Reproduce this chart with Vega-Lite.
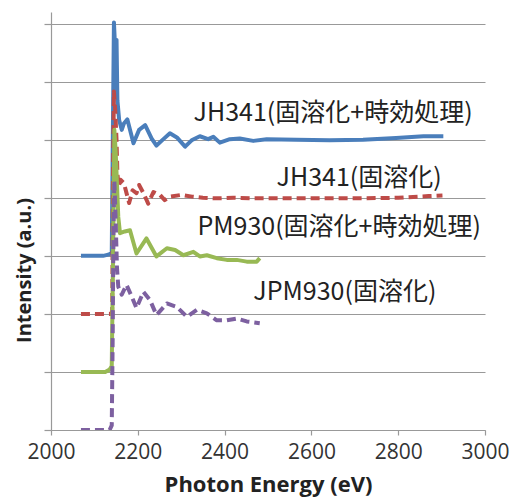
{
  "$schema": "https://vega.github.io/schema/vega-lite/v6.json",
  "width": 434,
  "height": 418,
  "autosize": "none",
  "padding": {"left": 51, "top": 12, "right": 26, "bottom": 73},
  "background": "white",
  "config": {
    "view": {"stroke": null},
    "font": "Open Sans"
  },
  "datasets": {
    "spectra": [
      {"series": "JH341 aged", "e": 2069, "v": 3.0},
      {"series": "JH341 aged", "e": 2120, "v": 3.0},
      {"series": "JH341 aged", "e": 2132, "v": 3.02},
      {"series": "JH341 aged", "e": 2140, "v": 3.05},
      {"series": "JH341 aged", "e": 2143, "v": 5.5},
      {"series": "JH341 aged", "e": 2145, "v": 7.02},
      {"series": "JH341 aged", "e": 2148, "v": 6.54},
      {"series": "JH341 aged", "e": 2151, "v": 6.72},
      {"series": "JH341 aged", "e": 2153, "v": 5.68},
      {"series": "JH341 aged", "e": 2157, "v": 5.34},
      {"series": "JH341 aged", "e": 2163, "v": 5.17},
      {"series": "JH341 aged", "e": 2168, "v": 5.28},
      {"series": "JH341 aged", "e": 2176, "v": 5.35},
      {"series": "JH341 aged", "e": 2190, "v": 4.94},
      {"series": "JH341 aged", "e": 2203, "v": 5.17},
      {"series": "JH341 aged", "e": 2217, "v": 5.25},
      {"series": "JH341 aged", "e": 2232, "v": 5.02},
      {"series": "JH341 aged", "e": 2243, "v": 4.9},
      {"series": "JH341 aged", "e": 2259, "v": 5.01},
      {"series": "JH341 aged", "e": 2274, "v": 5.11},
      {"series": "JH341 aged", "e": 2290, "v": 5.04},
      {"series": "JH341 aged", "e": 2309, "v": 4.88},
      {"series": "JH341 aged", "e": 2324, "v": 4.99},
      {"series": "JH341 aged", "e": 2343, "v": 5.06},
      {"series": "JH341 aged", "e": 2362, "v": 5.01},
      {"series": "JH341 aged", "e": 2374, "v": 5.05},
      {"series": "JH341 aged", "e": 2389, "v": 4.95},
      {"series": "JH341 aged", "e": 2412, "v": 5.01},
      {"series": "JH341 aged", "e": 2435, "v": 5.02},
      {"series": "JH341 aged", "e": 2466, "v": 4.98},
      {"series": "JH341 aged", "e": 2497, "v": 5.01},
      {"series": "JH341 aged", "e": 2565, "v": 5.0},
      {"series": "JH341 aged", "e": 2642, "v": 4.99},
      {"series": "JH341 aged", "e": 2719, "v": 5.0},
      {"series": "JH341 aged", "e": 2795, "v": 5.03},
      {"series": "JH341 aged", "e": 2858, "v": 5.06},
      {"series": "JH341 aged", "e": 2904, "v": 5.06},

      {"series": "JH341", "e": 2069, "v": 2.0},
      {"series": "JH341", "e": 2138, "v": 2.0},
      {"series": "JH341", "e": 2141, "v": 2.05},
      {"series": "JH341", "e": 2143, "v": 4.5},
      {"series": "JH341", "e": 2145, "v": 5.83},
      {"series": "JH341", "e": 2148, "v": 5.5},
      {"series": "JH341", "e": 2151, "v": 5.0},
      {"series": "JH341", "e": 2153, "v": 4.42},
      {"series": "JH341", "e": 2156, "v": 4.19},
      {"series": "JH341", "e": 2160, "v": 4.31},
      {"series": "JH341", "e": 2168, "v": 4.25},
      {"series": "JH341", "e": 2174, "v": 4.08},
      {"series": "JH341", "e": 2180, "v": 3.91},
      {"series": "JH341", "e": 2188, "v": 4.13},
      {"series": "JH341", "e": 2197, "v": 4.08},
      {"series": "JH341", "e": 2203, "v": 4.22},
      {"series": "JH341", "e": 2213, "v": 4.08},
      {"series": "JH341", "e": 2224, "v": 3.9},
      {"series": "JH341", "e": 2236, "v": 4.1},
      {"series": "JH341", "e": 2251, "v": 4.05},
      {"series": "JH341", "e": 2262, "v": 3.96},
      {"series": "JH341", "e": 2275, "v": 4.02},
      {"series": "JH341", "e": 2301, "v": 4.05},
      {"series": "JH341", "e": 2325, "v": 4.02},
      {"series": "JH341", "e": 2350, "v": 4.0},
      {"series": "JH341", "e": 2380, "v": 3.99},
      {"series": "JH341", "e": 2420, "v": 4.0},
      {"series": "JH341", "e": 2460, "v": 3.99},
      {"series": "JH341", "e": 2497, "v": 3.99},
      {"series": "JH341", "e": 2600, "v": 3.99},
      {"series": "JH341", "e": 2700, "v": 3.99},
      {"series": "JH341", "e": 2800, "v": 4.0},
      {"series": "JH341", "e": 2870, "v": 4.03},
      {"series": "JH341", "e": 2902, "v": 4.04},

      {"series": "PM930 aged", "e": 2069, "v": 1.0},
      {"series": "PM930 aged", "e": 2125, "v": 1.0},
      {"series": "PM930 aged", "e": 2135, "v": 1.04},
      {"series": "PM930 aged", "e": 2140, "v": 1.1},
      {"series": "PM930 aged", "e": 2143, "v": 3.0},
      {"series": "PM930 aged", "e": 2146, "v": 5.17},
      {"series": "PM930 aged", "e": 2149, "v": 4.8},
      {"series": "PM930 aged", "e": 2152, "v": 4.25},
      {"series": "PM930 aged", "e": 2155, "v": 3.67},
      {"series": "PM930 aged", "e": 2159, "v": 3.39},
      {"series": "PM930 aged", "e": 2170, "v": 3.42},
      {"series": "PM930 aged", "e": 2182, "v": 3.44},
      {"series": "PM930 aged", "e": 2197, "v": 3.04},
      {"series": "PM930 aged", "e": 2220, "v": 3.3},
      {"series": "PM930 aged", "e": 2243, "v": 2.99},
      {"series": "PM930 aged", "e": 2267, "v": 3.13},
      {"series": "PM930 aged", "e": 2286, "v": 3.1},
      {"series": "PM930 aged", "e": 2305, "v": 3.01},
      {"series": "PM930 aged", "e": 2328, "v": 3.07},
      {"series": "PM930 aged", "e": 2343, "v": 2.99},
      {"series": "PM930 aged", "e": 2359, "v": 3.01},
      {"series": "PM930 aged", "e": 2382, "v": 2.96},
      {"series": "PM930 aged", "e": 2405, "v": 2.93},
      {"series": "PM930 aged", "e": 2428, "v": 2.93},
      {"series": "PM930 aged", "e": 2451, "v": 2.9},
      {"series": "PM930 aged", "e": 2474, "v": 2.9},
      {"series": "PM930 aged", "e": 2481, "v": 2.96},

      {"series": "JPM930", "e": 2069, "v": 0.0},
      {"series": "JPM930", "e": 2135, "v": 0.0},
      {"series": "JPM930", "e": 2140, "v": 0.08},
      {"series": "JPM930", "e": 2142, "v": 1.5},
      {"series": "JPM930", "e": 2144, "v": 3.5},
      {"series": "JPM930", "e": 2146, "v": 4.3},
      {"series": "JPM930", "e": 2149, "v": 3.6},
      {"series": "JPM930", "e": 2152, "v": 2.8},
      {"series": "JPM930", "e": 2155, "v": 2.47},
      {"series": "JPM930", "e": 2163, "v": 2.33},
      {"series": "JPM930", "e": 2174, "v": 2.5},
      {"series": "JPM930", "e": 2186, "v": 2.3},
      {"series": "JPM930", "e": 2197, "v": 2.1},
      {"series": "JPM930", "e": 2213, "v": 2.38},
      {"series": "JPM930", "e": 2228, "v": 2.24},
      {"series": "JPM930", "e": 2243, "v": 1.98},
      {"series": "JPM930", "e": 2267, "v": 2.18},
      {"series": "JPM930", "e": 2290, "v": 2.12},
      {"series": "JPM930", "e": 2313, "v": 1.95},
      {"series": "JPM930", "e": 2336, "v": 2.07},
      {"series": "JPM930", "e": 2359, "v": 2.01},
      {"series": "JPM930", "e": 2382, "v": 1.89},
      {"series": "JPM930", "e": 2405, "v": 1.89},
      {"series": "JPM930", "e": 2428, "v": 1.92},
      {"series": "JPM930", "e": 2451, "v": 1.87},
      {"series": "JPM930", "e": 2481, "v": 1.84}
    ],
    "labels": [
      {"e": 2650, "v": 5.46, "text": "JH341(固溶化+時効処理)"},
      {"e": 2710, "v": 4.34, "text": "JH341(固溶化)"},
      {"e": 2664, "v": 3.5, "text": "PM930(固溶化+時効処理)"},
      {"e": 2677, "v": 2.38, "text": "JPM930(固溶化)"}
    ]
  },
  "encoding": {
    "x": {
      "field": "e", "type": "quantitative",
      "scale": {"domain": [2000, 3000], "nice": false, "zero": false},
      "axis": {
        "title": "Photon Energy (eV)",
        "values": [2000, 2200, 2400, 2600, 2800, 3000],
        "format": "d",
        "grid": false,
        "domainColor": "#999999", "domainWidth": 1.2,
        "tickColor": "#999999", "tickSize": 5, "tickWidth": 1.2,
        "labelFont": "Open Sans", "labelFontSize": 21, "labelColor": "#333333",
        "labelPadding": 6, "labelFlush": false,
        "titleFont": "Open Sans", "titleFontSize": 22, "titleFontWeight": "bold",
        "titleColor": "#222222", "titlePadding": 12
      }
    },
    "y": {
      "field": "v", "type": "quantitative",
      "scale": {"domain": [0, 7.2], "nice": false, "zero": false},
      "axis": {
        "title": "Intensity (a.u.)",
        "values": [0, 1, 2, 3, 4, 5, 6, 7],
        "labels": false,
        "grid": true, "gridColor": "#999999", "gridWidth": 1.2,
        "domainColor": "#999999", "domainWidth": 1.2,
        "tickColor": "#999999", "tickSize": 7, "tickWidth": 1.2,
        "titleFont": "Open Sans", "titleFontSize": 20, "titleFontWeight": "bold",
        "titleColor": "#222222",
        "titleAngle": -90, "titleAlign": "center", "titleBaseline": "middle",
        "titleX": -27, "titleY": 258
      }
    }
  },
  "layer": [
    {
      "data": {"name": "spectra"},
      "transform": [{"filter": "datum.series === 'JH341 aged'"}],
      "mark": {"type": "line", "color": "#4A7EBB", "strokeWidth": 4, "strokeJoin": "round", "clip": true}
    },
    {
      "data": {"name": "spectra"},
      "transform": [{"filter": "datum.series === 'JH341'"}],
      "mark": {"type": "line", "color": "#BE4B48", "strokeWidth": 4, "strokeDash": [9, 5], "strokeJoin": "round", "clip": true}
    },
    {
      "data": {"name": "spectra"},
      "transform": [{"filter": "datum.series === 'PM930 aged'"}],
      "mark": {"type": "line", "color": "#98B954", "strokeWidth": 4, "strokeJoin": "round", "clip": true}
    },
    {
      "data": {"name": "spectra"},
      "transform": [{"filter": "datum.series === 'JPM930'"}],
      "mark": {"type": "line", "color": "#7D60A0", "strokeWidth": 4, "strokeDash": [9, 5], "strokeJoin": "round", "clip": true}
    },
    {
      "data": {"name": "labels"},
      "mark": {"type": "text", "font": "Noto Sans CJK JP", "fontSize": 25, "color": "#222222", "align": "center", "baseline": "middle"},
      "encoding": {"text": {"field": "text", "type": "nominal"}}
    }
  ]
}
